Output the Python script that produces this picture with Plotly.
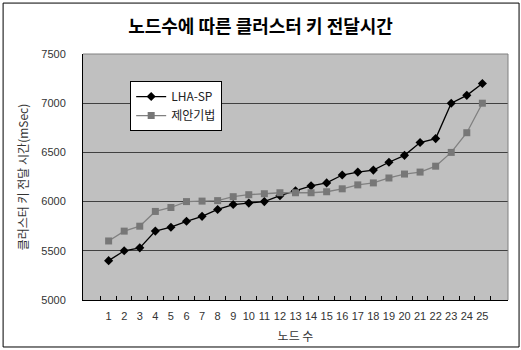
import plotly.graph_objects as go

nodes = [str(i) for i in range(1, 26)]
lha_sp = [5400, 5500, 5530, 5700, 5740, 5800, 5850, 5920, 5970, 5985,
          6000, 6060, 6110, 6160, 6190, 6270, 6300, 6320, 6400, 6470,
          6600, 6640, 7000, 7080, 7200]
proposed = [5600, 5700, 5750, 5900, 5940, 6000, 6005, 6010, 6050, 6070,
            6080, 6090, 6090, 6090, 6100, 6130, 6170, 6190, 6240, 6280,
            6300, 6360, 6500, 6700, 7000]
y_ticks = [5000, 5500, 6000, 6500, 7000, 7500]

KR = "Noto Sans CJK KR"

fig = go.Figure()
fig.add_trace(go.Scatter(
    x=nodes, y=lha_sp, name="LHA-SP", mode="lines+markers",
    line=dict(color="#000000", width=1.3),
    marker=dict(symbol="diamond", size=7, color="#000000"),
))
fig.add_trace(go.Scatter(
    x=nodes, y=proposed, name="제안기법", mode="lines+markers",
    line=dict(color="#808080", width=1.3),
    marker=dict(symbol="square", size=7, color="#777777"),
))

fig.update_layout(
    width=521, height=350,
    margin=dict(l=83, r=13, t=54, b=50),
    paper_bgcolor="#FFFFFF",
    plot_bgcolor="#C0C0C0",
    font=dict(family=KR, color="#333333", size=11),
    title=dict(
        text="<b>노드수에 따른 클러스터 키 전달시간</b>",
        x=0.5, xref="container", xanchor="center",
        y=1 - 27 / 350, yref="container", yanchor="middle",
        font=dict(family=KR, size=18, color="#000000"),
    ),
    showlegend=True,
    legend=dict(
        x=0.111, y=0.89, xanchor="left", yanchor="top",
        bgcolor="#FFFFFF", bordercolor="#000000", borderwidth=1,
        font=dict(family=KR, size=12, color="#222222"),
        tracegroupgap=2, itemwidth=30,
    ),
    xaxis=dict(
        type="category", automargin=False,
        showgrid=False, zeroline=False,
        showline=True, linecolor="#000000", linewidth=1,
        ticks="inside", tickson="boundaries", ticklen=4,
        tickcolor="#000000", tickangle=0, ticklabelstandoff=6,
        tickfont=dict(family="Liberation Sans Narrow, Liberation Sans", size=11, color="#333333"),
        title=dict(text="노드 수", font=dict(family=KR, size=12, color="#333333"),
                   standoff=11),
    ),
    yaxis=dict(
        range=[5000, 7500], tickvals=y_ticks, automargin=False,
        showgrid=True, gridcolor="#404040", gridwidth=1,
        zeroline=False,
        showline=True, linecolor="#000000", linewidth=1,
        ticks="", ticklabelstandoff=14,
        tickfont=dict(family="Liberation Sans", size=11, color="#333333"),
        title=dict(text="클러스터 키 전달 시간(mSec)",
                   font=dict(family=KR, size=12, color="#333333"),
                   standoff=10),
    ),
    shapes=[
        # upper and right edges of the plotting area
        dict(type="line", xref="paper", yref="paper", x0=0, x1=1, y0=1, y1=1,
             line=dict(color="#808080", width=1)),
        dict(type="line", xref="paper", yref="paper", x0=1, x1=1, y0=0, y1=1,
             line=dict(color="#808080", width=1)),
        # outer chart frame
        dict(type="rect", xref="paper", yref="paper",
             x0=-0.188, x1=1.026, y0=-0.191, y1=1.207,
             line=dict(color="#000000", width=1)),
    ],
)

fig.write_html("out.html")
